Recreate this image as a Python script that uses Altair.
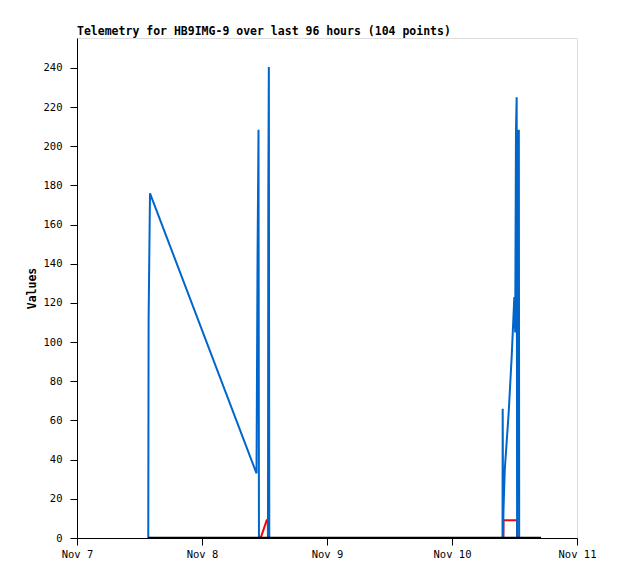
import altair as alt
import pandas as pd

TITLE = "Telemetry for HB9IMG-9 over last 96 hours (104 points)"

blue_time = [
    "2023-11-07T13:41", "2023-11-07T13:45", "2023-11-07T14:01",
    "2023-11-08T10:28", "2023-11-08T10:40", "2023-11-08T10:51", "2023-11-08T10:56",
    "2023-11-08T12:40", "2023-11-08T12:44", "2023-11-08T12:50", "2023-11-08T12:55",
    "2023-11-10T09:42", "2023-11-10T09:44", "2023-11-10T09:49", "2023-11-10T09:53",
    "2023-11-10T10:08", "2023-11-10T10:53", "2023-11-10T11:28", "2023-11-10T11:58",
    "2023-11-10T12:08", "2023-11-10T12:17", "2023-11-10T12:25", "2023-11-10T12:30",
    "2023-11-10T12:35", "2023-11-10T12:50", "2023-11-10T12:54", "2023-11-10T17:05",
]
blue_value = [
    0, 112, 176,
    33, 144.5, 208.4, 0,
    0, 176, 240.5, 0,
    0, 66, 0, 14,
    35, 64, 93, 123,
    105, 208, 225, 0,
    208, 208, 0, 0,
]

red_time = [
    "2023-11-07T13:45", "2023-11-08T11:16", "2023-11-08T12:25", "2023-11-08T12:39",
    "2023-11-08T12:40", "2023-11-10T09:52", "2023-11-10T09:53", "2023-11-10T12:29",
    "2023-11-10T12:30", "2023-11-10T17:05",
]
red_value = [0, 0, 9, 9, 0, 0, 9, 9, 0, 0]

black_time = [
    "2023-11-07T13:41", "2023-11-08T12:00", "2023-11-09T12:00", "2023-11-10T17:05",
]
black_value = [0, 0, 0, 0]

blue_df = pd.DataFrame({"time": blue_time, "value": blue_value})
red_df = pd.DataFrame({"time": red_time, "value": red_value})
black_df = pd.DataFrame({"time": black_time, "value": black_value})

FONT = "DejaVu Sans Mono"

x_scale = alt.Scale(domain=[alt.DateTime(year=2023, month=11, date=7),
                            alt.DateTime(year=2023, month=11, date=11)])
y_scale = alt.Scale(domain=[0, 255.3], nice=False)

x_axis = alt.Axis(
    title=None,
    values=[alt.DateTime(year=2023, month=11, date=d) for d in [7, 8, 9, 10, 11]],
    format="%b %-d", grid=False, tickSize=7, labelPadding=4,
    labelFont=FONT, labelFontSize=10.5, labelColor="#000",
    domainColor="#000", tickColor="#000", labelFlush=False,
)
y_axis = alt.Axis(
    title="Values", values=list(range(0, 241, 20)), grid=False, tickSize=7,
    labelPadding=8, labelFont=FONT, labelFontSize=10.5, labelColor="#000",
    titleFont=FONT, titleFontSize=11.5, titleFontWeight="bold", titleColor="#000",
    titlePadding=6, domainColor="#000", tickColor="#000",
)

def line(df, color, width=2):
    return alt.Chart(df).mark_line(color=color, strokeWidth=width, clip=True).encode(
        x=alt.X("time:T", scale=x_scale, axis=x_axis),
        y=alt.Y("value:Q", scale=y_scale, axis=y_axis),
        order=alt.Order("time:T"),
    )

chart = alt.layer(
    line(red_df, "#ff0000"),
    line(blue_df, "#0066cc"),
    line(black_df, "#000000", 2.5),
).properties(
    width=500, height=500,
    title=alt.TitleParams(TITLE, anchor="start", frame="group", font=FONT,
                          fontSize=11.5, fontWeight="bold", color="#000", offset=1),
    autosize=alt.AutoSizeParams(type="none"),
    padding={"left": 69, "top": 30, "right": 33, "bottom": 33},
).configure_view(stroke="#333", strokeWidth=1).configure(background="white")

chart.save("out.html", embed_options={"renderer": "svg", "actions": False})
